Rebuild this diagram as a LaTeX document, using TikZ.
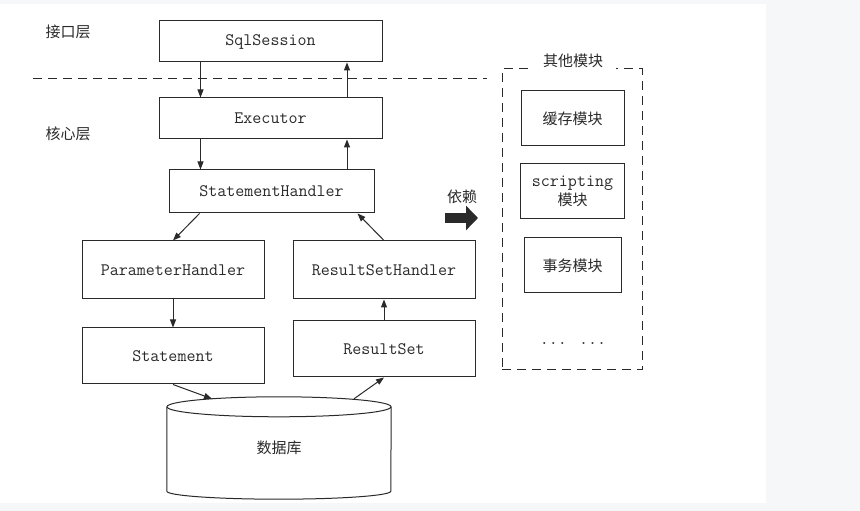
\documentclass[tikz,border=0pt]{standalone}
\usepackage{fontspec}
\newfontfamily\cjk{Noto Sans CJK SC}
\usepackage{tikz}
\usetikzlibrary{positioning,arrows.meta}

\definecolor{pagegray}{HTML}{F6F7F9}
\definecolor{ink}{HTML}{2A2A2A}

\tikzset{
    layerbox/.style={draw=ink, line width=1pt, inner sep=0pt, text=ink, font=\fontsize{17.5}{19}\ttfamily},
    modbox/.style={layerbox, font=\fontsize{15}{19}\cjk},
    flow/.style={draw=ink, line width=1pt, -{Triangle[length=8pt,width=6pt]}},
    cnlabel/.style={inner sep=1pt, text=ink, font=\fontsize{15}{19}\cjk},
    splitline/.style={draw=ink, line width=1pt, dash pattern=on 9pt off 6pt}
}

\begin{document}
\begin{tikzpicture}[x=1pt, y=1pt]
    \useasboundingbox (0,0) rectangle (860,511);
    \fill[pagegray] (0,0) rectangle (860,511);
    \fill[white] (0,8) rectangle (766,507);

    % layers
    \node[cnlabel] (lblapi) at (68,479) {接口层};
    \node[cnlabel] (lblcore) at (68,377) {核心层};
    \coordinate (split0) at (33,432);
    \coordinate (split1) at (487,432);
    \draw[splitline] (split0) -- (split1);

    % main column
    \node[layerbox, minimum width=223pt, minimum height=41pt] (sql) at (270.5,469.5) {SqlSession};
    \node[layerbox, minimum width=223pt, minimum height=41pt, below=35pt of sql] (exec) {Executor};
    \node[layerbox, minimum width=205pt, minimum height=43pt, below=30pt of exec, xshift=1pt] (sh) {StatementHandler};

    % handlers
    \node[layerbox, minimum width=182pt, minimum height=58pt, below=27pt of sh, xshift=-98.5pt] (ph) {ParameterHandler};
    \node[layerbox, minimum width=182pt, minimum height=58pt, right=28pt of ph] (rsh) {ResultSetHandler};
    \node[layerbox, minimum width=182pt, minimum height=56pt, below=28pt of ph] (stmt) {Statement};
    \node[layerbox, minimum width=182pt, minimum height=56pt, below=21pt of rsh] (rs) {ResultSet};

    % database
    \node[cnlabel, minimum width=224pt, minimum height=102pt] (db) at (279,63) {数据库};
    \draw[ink, line width=1pt] ([yshift=-10pt]db.north west) -- ([yshift=8pt]db.south west)
        arc[start angle=180, end angle=360, x radius=112pt, y radius=8pt]
        -- ([yshift=-10pt]db.north east);
    \draw[ink, line width=1pt] ([yshift=-10pt]db.north) ellipse[x radius=112pt, y radius=10pt];

    \draw[flow] ([xshift=-70pt]sql.south) -- ([xshift=-70pt]sql.south |- exec.north);
    \draw[flow] ([xshift=76.5pt]exec.north) -- ([xshift=76.5pt]exec.north |- sql.south);
    \draw[flow] ([xshift=-70pt]exec.south) -- ([xshift=-70pt]exec.south |- sh.north);
    \draw[flow] ([xshift=76.5pt]exec.south |- sh.north) -- ([xshift=76.5pt]exec.south);
    \draw[flow] ([xshift=-72pt]sh.south) -- (ph.north);
    \draw[flow] (rsh.north) -- ([xshift=86pt]sh.south);
    \draw[flow] (ph.south) -- (stmt.north);
    \draw[flow] (rs.north) -- (rsh.south);
    \draw[flow] (stmt.south) -- ([xshift=-67pt,yshift=-2pt]db.north);
    \draw[flow] ([xshift=75pt,yshift=-2pt]db.north) -- (rs.south);

    % other modules
    \node[draw=ink, line width=1pt, dash pattern=on 9pt off 6pt, minimum width=140pt, minimum height=301pt] (others) at (572,291.5) {};
    \node[cnlabel, fill=white, inner xsep=13pt, inner ysep=4pt] (otherstitle) at (573,450) {其他模块};
    \node[modbox, minimum width=103pt, minimum height=55pt] (cache) at (572.5,392.5) {缓存模块};
    \node[layerbox, minimum width=104pt, minimum height=55pt, align=center, below=17pt of cache] (script) {scripting\\{\cjk\fontsize{15}{19}\selectfont 模块}};
    \node[modbox, minimum width=97pt, minimum height=55pt, below=18pt of script] (trans) {事务模块};
    \node[inner sep=0pt, text=ink, font=\fontsize{17.5}{19}\ttfamily] (more) at (573,167) {... ...};

    % dependency
    \node[cnlabel] (deplbl) at (462,314) {依赖};
    \coordinate (dep0) at (445,293);
    \coordinate (dep1) at (478,293);
    \draw[ink, line width=10pt, -{Triangle[length=12pt,width=24pt]}] (dep0) -- (dep1);
\end{tikzpicture}
\end{document}
